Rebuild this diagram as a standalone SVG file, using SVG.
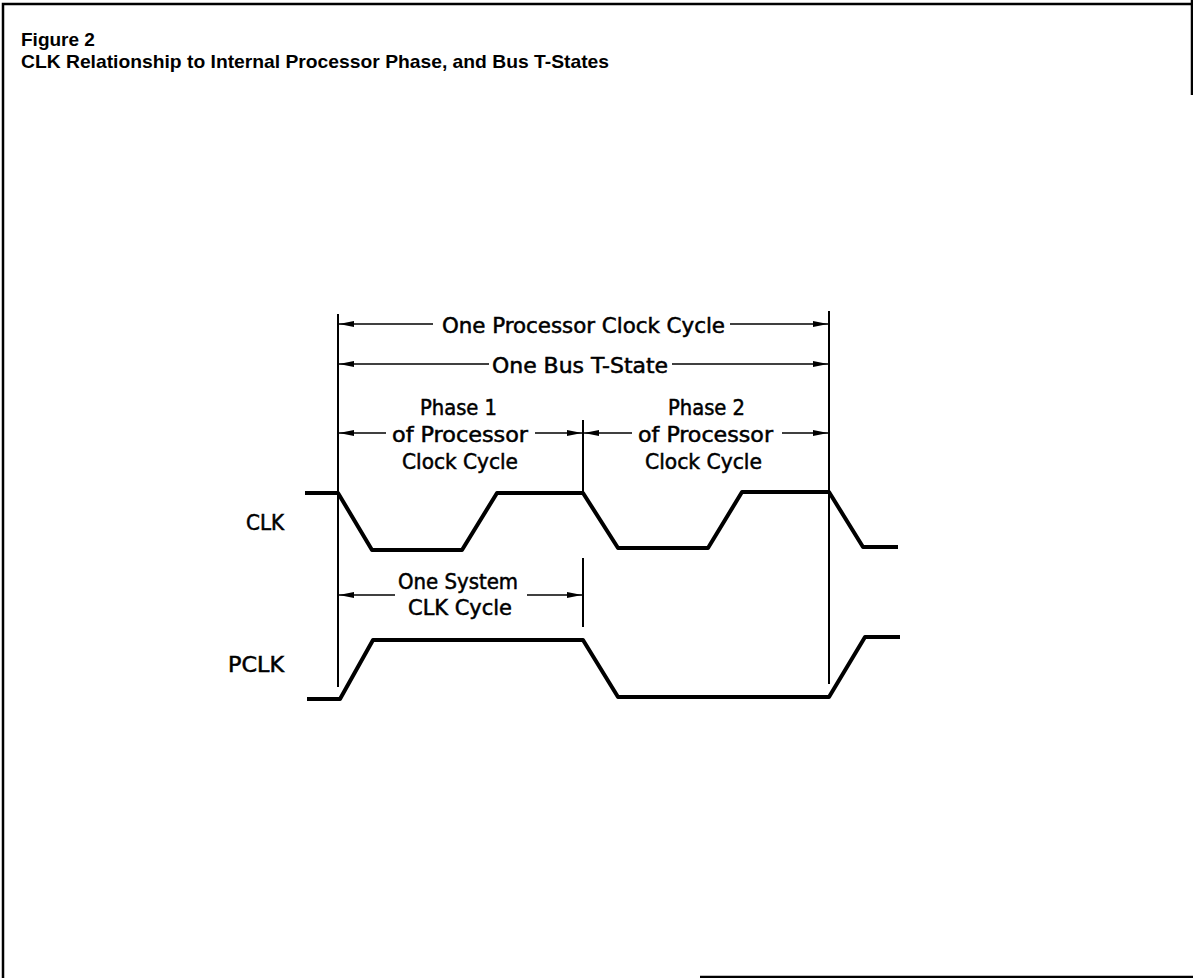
<svg xmlns="http://www.w3.org/2000/svg" width="1193" height="978" viewBox="0 0 1193 978">
<style>
.frame{stroke:#000;stroke-width:2.5;fill:none}
.title{font-family:"Liberation Sans",Arial,sans-serif;font-weight:bold;font-size:19px;fill:#000}
.lbl{font-family:"DejaVu Sans Condensed","DejaVu Sans",sans-serif;font-size:22px;fill:#000;stroke:#000;stroke-width:0.5}
.wave{stroke:#000;stroke-width:4;fill:none;stroke-linejoin:round}
.ext{stroke:#000;stroke-width:2;fill:none}
.dim{stroke:#000;stroke-width:1.6;fill:none;marker-end:url(#ah)}
</style>
<defs>
<marker id="ah" markerUnits="userSpaceOnUse" markerWidth="16" markerHeight="8" refX="15" refY="4" orient="auto">
<path d="M0,1 L15,4 L0,7 z" fill="#000"/>
</marker>
</defs>
<g id="frame">
<path class="frame" d="M3,978 V4 H1193"/>
<path class="frame" d="M1192,0 V95"/>
<path class="frame" d="M700,977 H1193"/>
</g>
<g id="title">
<text class="title" x="21" y="46">Figure 2</text>
<text class="title" x="21" y="68" textLength="588" lengthAdjust="spacingAndGlyphs">CLK Relationship to Internal Processor Phase, and Bus T-States</text>
</g>
<g id="extension-lines">
<line class="ext" x1="338" y1="314" x2="338" y2="687"/>
<line class="ext" x1="829" y1="311" x2="829" y2="493"/>
<line class="ext" x1="829" y1="493" x2="829" y2="684" stroke-width="1.5"/>
<line class="ext" x1="583" y1="420" x2="583" y2="493"/>
<line class="ext" x1="583" y1="558" x2="583" y2="627"/>
</g>
<g id="connectors">
<line class="dim" x1="433" y1="324" x2="339" y2="324"/>
<line class="dim" x1="730" y1="324" x2="828" y2="324"/>
<line class="dim" x1="489" y1="364" x2="339" y2="364"/>
<line class="dim" x1="672" y1="364" x2="828" y2="364"/>
<line class="dim" x1="386" y1="433" x2="339" y2="433"/>
<line class="dim" x1="535" y1="433" x2="582" y2="433"/>
<line class="dim" x1="632" y1="433" x2="584" y2="433"/>
<line class="dim" x1="782" y1="433" x2="828" y2="433"/>
<line class="dim" x1="395" y1="595" x2="339" y2="595"/>
<line class="dim" x1="527" y1="595" x2="582" y2="595"/>
</g>
<g id="dimension-labels">
<text class="lbl" x="442" y="333" textLength="283" lengthAdjust="spacingAndGlyphs">One Processor Clock Cycle</text>
<text class="lbl" x="492" y="373" textLength="176" lengthAdjust="spacingAndGlyphs">One Bus T-State</text>
<text class="lbl" x="420" y="415" textLength="77" lengthAdjust="spacingAndGlyphs">Phase 1</text>
<text class="lbl" x="392" y="442" textLength="136" lengthAdjust="spacingAndGlyphs">of Processor</text>
<text class="lbl" x="402" y="469" textLength="116" lengthAdjust="spacingAndGlyphs">Clock Cycle</text>
<text class="lbl" x="668" y="415" textLength="77" lengthAdjust="spacingAndGlyphs">Phase 2</text>
<text class="lbl" x="638" y="442" textLength="135" lengthAdjust="spacingAndGlyphs">of Processor</text>
<text class="lbl" x="645" y="469" textLength="117" lengthAdjust="spacingAndGlyphs">Clock Cycle</text>
<text class="lbl" x="398" y="589" textLength="120" lengthAdjust="spacingAndGlyphs">One System</text>
<text class="lbl" x="408" y="615" textLength="104" lengthAdjust="spacingAndGlyphs">CLK Cycle</text>
</g>
<g id="clk">
<text class="lbl" x="246" y="530" textLength="38" lengthAdjust="spacingAndGlyphs">CLK</text>
<polyline class="wave" points="305,493 338,493 372,550 462,550 497,493 583,493 618,548 708,548 742,492 829,492 863,547 898,547"/>
</g>
<g id="pclk">
<text class="lbl" x="228" y="672" textLength="56" lengthAdjust="spacingAndGlyphs">PCLK</text>
<polyline class="wave" points="307,699 340,699 373,640 583,640 618,697 829,697 865,637 900,637"/>
</g>
</svg>
